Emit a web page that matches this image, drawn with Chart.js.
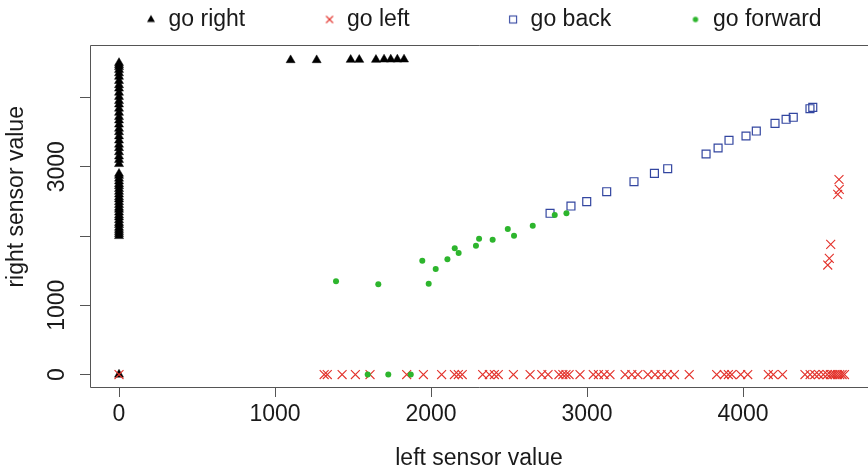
<!DOCTYPE html>
<html><head><meta charset="utf-8">
<script src="https://cdn.jsdelivr.net/npm/chart.js@4"></script>
<style>html,body{margin:0;padding:0;background:#fff;overflow:hidden}#wrap{width:868px;height:474px;position:relative}</style>
</head><body><div id="wrap"><canvas id="c" width="868" height="474"></canvas></div>
<script>
// ---------------- data ----------------
const seriesNames = ['go right', 'go left', 'go back', 'go forward'];

const rightX = [0,
  0,0,0,0,0,0,0,0,0,0,0,0,0,0,0,0,0,0,0,0,0,0,0,0,0,0,
  0,0,0,0,0,0,0,0,0,0,0,0,0,0,0,0,0,0,0,0,0,0,0,0,0,0,0,0,
  1100,1267,1485,1540,1647,1699,1742,1784,1827];
const rightY = [0,
  2000,2030,2060,2090,2120,2160,2190,2230,2270,2300,2340,2380,2410,2450,2490,2530,2560,2600,2640,2680,2720,2750,2790,2830,2870,2900,
  3040,3100,3150,3210,3270,3320,3380,3440,3500,3550,3610,3670,3720,3780,3840,3900,3950,4010,4070,4130,4180,4240,4300,4350,4400,4440,4470,4500,
  4540,4540,4545,4545,4545,4550,4550,4550,4550];

const leftX = [0,1315,1335,1430,1515,1609,1844,1951,2068,2150,2175,2200,2331,2374,2406,2431,2528,2635,2710,2750,
  2820,2845,2865,2885,2955,3040,3073,3109,3147,3244,3287,3326,3390,3436,3475,3515,3560,3655,3831,3880,3906,3928,
  3985,4030,4162,4194,4253,4397,4430,4460,4485,4515,4540,4560,4575,4590,4605,4620,4635,4650,
  4615,4617,4607,4562,4553,4543];
const leftY = [0,0,0,0,0,0,0,0,0,0,0,0,0,0,0,0,0,0,0,0,
  0,0,0,0,0,0,0,0,0,0,0,0,0,0,0,0,0,0,0,0,0,0,
  0,0,0,0,0,0,0,0,0,0,0,0,0,0,0,0,0,0,
  2816,2674,2602,1880,1678,1581];

const backX = [2763,2897,2998,3126,3301,3432,3517,3763,3840,3910,4019,4085,4205,4276,4322,4429,4447];
const backY = [2328,2433,2496,2640,2784,2905,2972,3184,3271,3382,3444,3516,3627,3685,3714,3838,3858];

const fwdX = [1391,1662,1985,1944,2030,2105,2152,2177,2288,2308,2395,2492,2532,2652,2793,2868,1594,1726,1870];
const fwdY = [1346,1302,1311,1643,1523,1663,1822,1754,1860,1961,1947,2101,2004,2149,2303,2328,0,0,0];

const xTicks = [0, 1000, 2000, 3000, 4000];
const xTickLabels = ['0', '1000', '2000', '3000', '4000'];
const yTicks = [0, 1000, 2000, 3000, 4000];
const yTickLabels = ['0', '1000', '', '3000', ''];
const xTitle = 'left sensor value';
const yTitle = 'right sensor value';

// ---------------- styling ----------------
const FAMILY = '"Liberation Sans", Arial, Helvetica, sans-serif';
const FS = 23;
const TXT = '#1a1a1a';
const AXC = '#555555';
const RED = '#e3322b', BLUE = '#3346a0', GREEN = '#2db52d', BLACK = '#000000';
const LEG_PAD = 8, LEG_COL = 181.5, LEG_BOX = 12, LEG_FIRST = 145;

function pts(xs, ys) { return xs.map((x, i) => ({ x: x, y: ys[i] })); }

function icon(kind, color) {
  const c = document.createElement('canvas'); c.width = 12; c.height = 12;
  const g = c.getContext('2d');
  g.fillStyle = color; g.strokeStyle = color; g.lineWidth = 1.1;
  if (kind === 'tri') { g.beginPath(); g.moveTo(6, 1.6); g.lineTo(10, 8.6); g.lineTo(2, 8.6); g.closePath(); g.fill(); }
  else if (kind === 'x') { g.beginPath(); g.moveTo(2.5, 2.5); g.lineTo(9.5, 9.5); g.moveTo(9.5, 2.5); g.lineTo(2.5, 9.5); g.stroke(); }
  else if (kind === 'sq') { g.strokeRect(2.5, 2.5, 7, 7); }
  else { g.beginPath(); g.arc(6, 6, 2.7, 0, Math.PI * 2); g.fill(); }
  return c;
}
const legendIcons = [icon('tri', BLACK), icon('x', RED), icon('sq', BLUE), icon('dot', GREEN)];

const boxPlugin = {
  id: 'rbox',
  beforeDatasetsDraw(chart) {
    const a = chart.chartArea, g = chart.ctx;
    g.save(); g.strokeStyle = AXC; g.lineWidth = 1;
    g.beginPath();
    g.moveTo(chart.width + 5, a.top + 0.5); g.lineTo(a.left + 0.5, a.top + 0.5);
    g.lineTo(a.left + 0.5, a.bottom + 0.5); g.lineTo(chart.width + 5, a.bottom + 0.5);
    g.stroke(); g.restore();
  }
};
const legendPlugin = {
  id: 'legendPos',
  beforeLayout(chart) {
    const lg = chart.legend;
    if (lg && !lg._patched) {
      const f = lg.fit.bind(lg);
      lg.fit = function () { f(); this.height = 45; };
      lg._patched = true;
    }
  },
  afterLayout(chart) {
    const lg = chart.legend; if (!lg) return;
    lg.left = LEG_FIRST - LEG_PAD; lg.right = chart.width + 600; lg.top = 0;
  }
};

new Chart(document.getElementById('c'), {
  type: 'scatter',
  data: {
    datasets: [
      { label: seriesNames[0], data: pts(rightX, rightY), pointStyle: 'triangle', pointRadius: 5.2,
        backgroundColor: BLACK, borderColor: BLACK, borderWidth: 0.5, order: 4 },
      { label: seriesNames[1], data: pts(leftX, leftY), pointStyle: 'crossRot', pointRadius: 6.3,
        backgroundColor: RED, borderColor: RED, borderWidth: 1.1, order: 3 },
      { label: seriesNames[2], data: pts(backX, backY), pointStyle: 'rect', pointRadius: 5.6,
        backgroundColor: 'rgba(0,0,0,0)', borderColor: BLUE, borderWidth: 1.2, order: 2 },
      { label: seriesNames[3], data: pts(fwdX, fwdY), pointStyle: 'circle', pointRadius: 3,
        backgroundColor: GREEN, borderColor: GREEN, borderWidth: 0, order: 1 }
    ]
  },
  options: {
    responsive: false, animation: false, events: [], devicePixelRatio: 1,
    layout: { padding: 0, autoPadding: false },
    plugins: {
      tooltip: { enabled: false },
      legend: {
        display: true, position: 'top', align: 'start', fullSize: true,
        labels: {
          font: { family: FAMILY, size: FS }, color: TXT, usePointStyle: true,
          boxWidth: LEG_BOX, boxHeight: 8, padding: LEG_PAD,
          sort: (a, b) => a.datasetIndex - b.datasetIndex,
          generateLabels(chart) {
            const items = Chart.defaults.plugins.legend.labels.generateLabels(chart);
            const g = chart.ctx; g.save(); g.font = FS + 'px ' + FAMILY;
            const sp = g.measureText(' ').width;
            items.forEach(it => {
              it.pointStyle = legendIcons[it.datasetIndex];
              const w = g.measureText(it.text).width;
              const n = Math.max(0, Math.round((LEG_COL - LEG_BOX - FS / 2 - LEG_PAD - w) / sp));
              it.text = it.text + ' '.repeat(n);
            });
            g.restore();
            return items;
          }
        }
      }
    },
    scales: {
      x: {
        type: 'linear', position: 'bottom', min: -186, max: 4801,
        afterBuildTicks: s => { s.ticks = xTicks.map(v => ({ value: v })); },
        afterFit: s => { s.height = 87; s.paddingLeft = 0; s.paddingRight = 0; },
        grid: { display: true, drawOnChartArea: false, drawTicks: true, tickLength: 10, color: AXC, lineWidth: 1 },
        border: { display: false },
        ticks: { autoSkip: false, maxRotation: 0, minRotation: 0, padding: 4, color: TXT,
                 font: { family: FAMILY, size: FS },
                 callback: (v) => xTickLabels[xTicks.indexOf(v)] },
        title: { display: true, text: xTitle, color: TXT, font: { family: FAMILY, size: FS }, padding: { top: 0, bottom: 2 } }
      },
      y: {
        type: 'linear', position: 'left', min: -180, max: 4758,
        afterBuildTicks: s => { s.ticks = yTicks.map(v => ({ value: v })); },
        afterFit: s => { s.width = 90; s.paddingTop = 0; s.paddingBottom = 0; },
        grid: { display: true, drawOnChartArea: false, drawTicks: true, tickLength: 10, color: AXC, lineWidth: 1 },
        border: { display: false },
        ticks: { autoSkip: false, minRotation: 90, maxRotation: 90, crossAlign: 'center', padding: -3, color: TXT,
                 font: { family: FAMILY, size: FS },
                 callback: (v) => yTickLabels[yTicks.indexOf(v)] },
        title: { display: true, text: '      ' + yTitle, color: TXT, font: { family: FAMILY, size: FS }, padding: { top: 3, bottom: 0 } }
      }
    }
  },
  plugins: [boxPlugin, legendPlugin]
});
</script>
</body></html>
